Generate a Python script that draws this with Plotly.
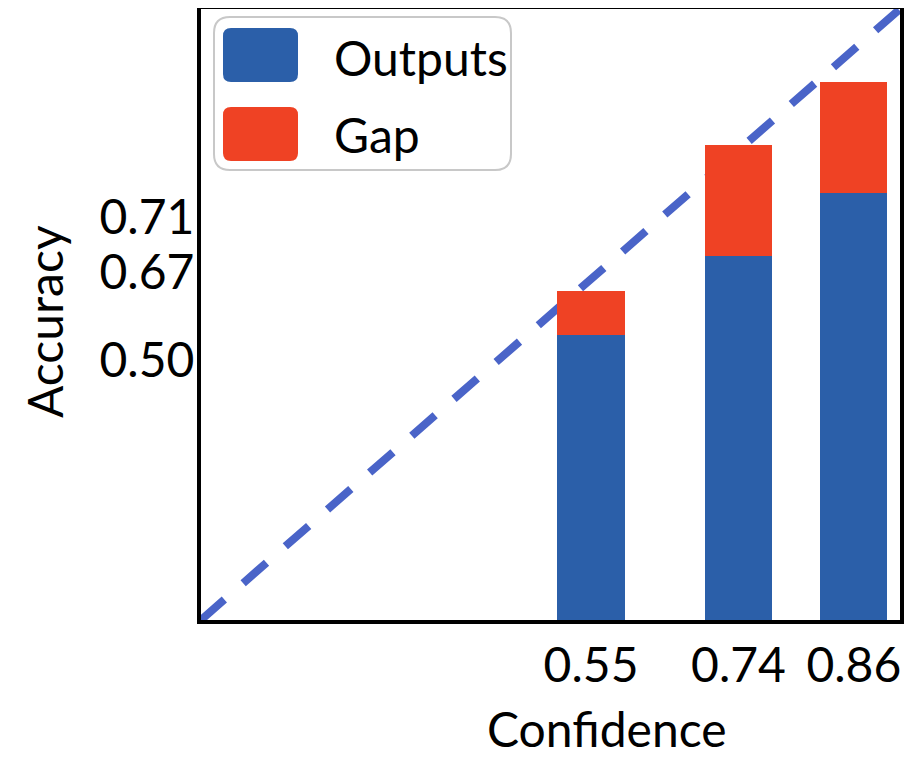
import plotly.graph_objects as go

# ---- data ----
conf_labels = ["0.55", "0.74", "0.86"]          # x tick labels
bar_x = [0.558, 0.769, 0.934]                   # bar centres on confidence axis
outputs = [0.466, 0.596, 0.699]                 # blue part (accuracy)
gap = [0.072, 0.182, 0.182]                     # red part (gap)
acc_tick_pos = [0.425, 0.569, 0.660]            # y tick positions
acc_tick_text = ["0.50", "0.67", "0.71"]        # y tick labels
diag_x = [0, 1]
diag_y = [0, 1]

BLUE = "#2b5fa9"
RED = "#ef4224"
LINE = "#4a64c8"
FONT = "Lato"
FS = 48

OFF = 8                      # default page body margin
W, H = 909, 749
PL, PR, PT, PB = 201, 900, 9, 620   # plot area in window pixels
ML = PL - OFF
MT = PT - OFF
MR = W - (PR - OFF)
MB = H - (PB - OFF)
PW = PR - PL
PH = PB - PT


def px(x):
    return (x - PL) / PW


def py(y):
    return (PB - y) / PH


def rrect(x0, y0, x1, y1, r):
    pts = [
        ("M", [(x0 + r, y0)]),
        ("L", [(x1 - r, y0)]),
        ("Q", [(x1, y0), (x1, y0 + r)]),
        ("L", [(x1, y1 - r)]),
        ("Q", [(x1, y1), (x1 - r, y1)]),
        ("L", [(x0 + r, y1)]),
        ("Q", [(x0, y1), (x0, y1 - r)]),
        ("L", [(x0, y0 + r)]),
        ("Q", [(x0, y0), (x0 + r, y0)]),
    ]
    s = ""
    for cmd, p in pts:
        s += cmd + " ".join(f"{px(a):.5f},{py(b):.5f}" for a, b in p) + " "
    return s + "Z"


fig = go.Figure()
fig.add_trace(go.Bar(x=bar_x, y=outputs, base=[0] * len(outputs), width=0.096,
                     marker=dict(color=BLUE, line=dict(width=0)), name="Outputs",
                     showlegend=False))
fig.add_trace(go.Bar(x=bar_x, y=gap, base=outputs, width=0.096,
                     marker=dict(color=RED, line=dict(width=0)), name="Gap",
                     showlegend=False))

shapes = [
    dict(type="line", xref="x", yref="y", x0=diag_x[0], y0=diag_y[0],
         x1=diag_x[1], y1=diag_y[1], layer="below",
         line=dict(color=LINE, width=8, dash="31px,25px")),
    dict(type="path", xref="paper", yref="paper", path=rrect(214, 17, 511, 170, 16),
         fillcolor="white", line=dict(color="#c8c8c8", width=2), layer="above"),
    dict(type="path", xref="paper", yref="paper", path=rrect(223, 28, 298, 82, 8),
         fillcolor=BLUE, line=dict(width=0), layer="above"),
    dict(type="path", xref="paper", yref="paper", path=rrect(223, 107, 298, 161, 8),
         fillcolor=RED, line=dict(width=0), layer="above"),
]

tf = dict(family=FONT, size=FS, color="black")
annotations = [
    dict(xref="paper", yref="paper", x=px(332), y=py(57), text="Outputs",
         showarrow=False, xanchor="left", yanchor="middle", font=tf),
    dict(xref="paper", yref="paper", x=px(332), y=py(134), text="Gap",
         showarrow=False, xanchor="left", yanchor="middle", font=tf),
    dict(xref="paper", yref="paper", x=px(607), y=py(728), text="Confidence",
         showarrow=False, xanchor="center", yanchor="middle", font=tf,
         borderpad=0),
    dict(xref="paper", yref="paper", x=px(45), y=py(322), text="Accuracy",
         textangle=-90, showarrow=False, xanchor="center", yanchor="middle", font=tf),
]

axis_common = dict(showgrid=False, zeroline=False, showline=True, mirror=True,
                   linecolor="black", linewidth=4, ticks="", ticklen=0,
                   tickfont=tf)

fig.update_layout(
    width=W, height=H,
    margin=dict(l=ML, r=MR, t=MT, b=MB, autoexpand=False),
    paper_bgcolor="white", plot_bgcolor="white",
    barmode="overlay",
    bargap=0,
    shapes=shapes,
    annotations=annotations,
    xaxis=dict(range=[0, 1], tickvals=bar_x, ticktext=conf_labels,
               ticklabelstandoff=0, **axis_common),
    yaxis=dict(range=[0, 1], tickvals=acc_tick_pos, ticktext=acc_tick_text,
               ticklabelstandoff=-7, **axis_common),
)

fig.write_html("out.html")
